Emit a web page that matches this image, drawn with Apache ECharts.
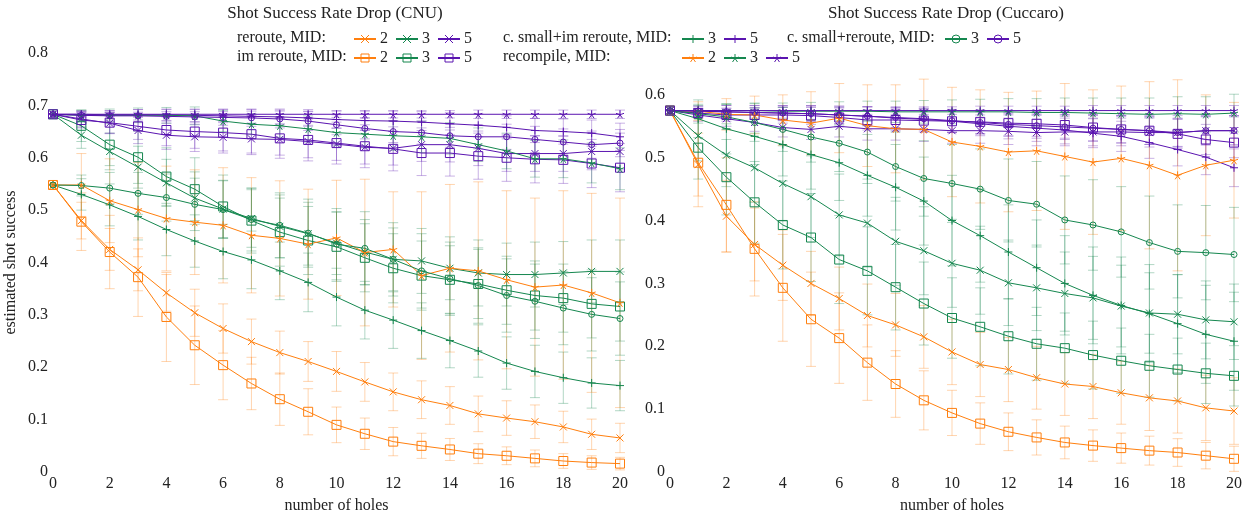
<!DOCTYPE html>
<html>
<head>
<meta charset="utf-8">
<script src="https://cdn.jsdelivr.net/npm/echarts@6/dist/echarts.min.js"></script>
<style>
  html, body { margin: 0; padding: 0; background: #fff; }
  #chart { width: 1252px; height: 519px; }
</style>
</head>
<body>
<div id="chart"></div>
<script>
// x axis: number of holes
const holes = [0, 1, 2, 3, 4, 5, 6, 7, 8, 9, 10, 11, 12, 13, 14, 15, 16, 17, 18, 19, 20]

// ---- CNU panel (means) ----
const cnuReroute2 = [0.548, 0.48, 0.425, 0.386, 0.342, 0.304, 0.274, 0.249, 0.228, 0.211, 0.192, 0.172, 0.153, 0.138, 0.127, 0.111, 0.103, 0.096, 0.086, 0.072, 0.065]
const cnuReroute3 = [0.683, 0.643, 0.612, 0.582, 0.552, 0.523, 0.502, 0.484, 0.469, 0.455, 0.437, 0.42, 0.406, 0.403, 0.389, 0.38, 0.377, 0.377, 0.38, 0.383, 0.383]
const cnuReroute5 = [0.683, 0.674, 0.666, 0.652, 0.643, 0.64, 0.639, 0.636, 0.635, 0.631, 0.626, 0.62, 0.618, 0.625, 0.625, 0.618, 0.608, 0.608, 0.608, 0.612, 0.612]
const cnuImReroute2 = [0.548, 0.478, 0.42, 0.372, 0.296, 0.242, 0.204, 0.169, 0.139, 0.115, 0.09, 0.073, 0.058, 0.05, 0.043, 0.035, 0.031, 0.026, 0.021, 0.018, 0.016]
const cnuImReroute3 = [0.683, 0.661, 0.625, 0.601, 0.564, 0.54, 0.507, 0.48, 0.458, 0.442, 0.43, 0.409, 0.389, 0.375, 0.367, 0.359, 0.347, 0.337, 0.332, 0.321, 0.316]
const cnuImReroute5 = [0.683, 0.672, 0.667, 0.66, 0.653, 0.65, 0.648, 0.645, 0.637, 0.634, 0.628, 0.622, 0.617, 0.609, 0.609, 0.603, 0.6, 0.597, 0.596, 0.589, 0.581]
const cnuSmallImReroute3 = [0.548, 0.53, 0.51, 0.488, 0.463, 0.441, 0.421, 0.405, 0.384, 0.362, 0.334, 0.309, 0.29, 0.27, 0.251, 0.231, 0.208, 0.192, 0.18, 0.17, 0.165]
const cnuSmallImReroute5 = [0.683, 0.683, 0.682, 0.682, 0.682, 0.681, 0.68, 0.679, 0.678, 0.676, 0.673, 0.671, 0.67, 0.668, 0.665, 0.662, 0.658, 0.652, 0.65, 0.647, 0.64]
const cnuRecompile2 = [0.548, 0.548, 0.518, 0.501, 0.484, 0.477, 0.471, 0.452, 0.446, 0.435, 0.447, 0.419, 0.425, 0.375, 0.389, 0.384, 0.367, 0.353, 0.357, 0.342, 0.323]
const cnuRecompile3 = [0.683, 0.681, 0.681, 0.681, 0.681, 0.68, 0.67, 0.664, 0.661, 0.655, 0.648, 0.645, 0.642, 0.64, 0.637, 0.625, 0.613, 0.598, 0.598, 0.59, 0.579]
const cnuRecompile5 = [0.683, 0.683, 0.683, 0.683, 0.683, 0.683, 0.683, 0.683, 0.683, 0.683, 0.683, 0.683, 0.683, 0.683, 0.683, 0.683, 0.683, 0.683, 0.683, 0.683, 0.683]
const cnuSmallReroute3 = [0.548, 0.547, 0.542, 0.532, 0.524, 0.511, 0.501, 0.482, 0.471, 0.456, 0.435, 0.427, 0.406, 0.384, 0.369, 0.356, 0.337, 0.326, 0.313, 0.301, 0.293]
const cnuSmallReroute5 = [0.683, 0.681, 0.68, 0.68, 0.679, 0.678, 0.677, 0.676, 0.674, 0.67, 0.663, 0.656, 0.65, 0.648, 0.642, 0.64, 0.64, 0.635, 0.63, 0.625, 0.628]

// ---- CNU panel (error half widths) ----
const cnuReroute2Err = [0, 0.035, 0.04, 0.04, 0.035, 0.045, 0.047, 0.043, 0.041, 0.038, 0.038, 0.037, 0.036, 0.036, 0.036, 0.034, 0.033, 0.032, 0.03, 0.029, 0.028]
const cnuReroute3Err = [0, 0.025, 0.035, 0.04, 0.045, 0.05, 0.055, 0.055, 0.06, 0.06, 0.06, 0.062, 0.06, 0.062, 0.06, 0.063, 0.06, 0.062, 0.06, 0.06, 0.06]
const cnuReroute5Err = [0, 0.015, 0.02, 0.025, 0.027, 0.028, 0.03, 0.03, 0.03, 0.031, 0.031, 0.032, 0.032, 0.032, 0.033, 0.033, 0.034, 0.034, 0.034, 0.035, 0.035]
const cnuImReroute2Err = [0, 0.055, 0.07, 0.075, 0.085, 0.075, 0.066, 0.05, 0.05, 0.044, 0.034, 0.03, 0.027, 0.024, 0.021, 0.019, 0.017, 0.016, 0.014, 0.013, 0.012]
const cnuImReroute3Err = [0, 0.03, 0.04, 0.05, 0.055, 0.06, 0.06, 0.062, 0.065, 0.065, 0.066, 0.065, 0.066, 0.066, 0.065, 0.066, 0.065, 0.066, 0.065, 0.065, 0.066]
const cnuImReroute5Err = [0, 0.015, 0.02, 0.025, 0.03, 0.032, 0.035, 0.036, 0.038, 0.04, 0.04, 0.041, 0.042, 0.043, 0.044, 0.044, 0.045, 0.045, 0.045, 0.046, 0.046]
const cnuSmallImReroute3Err = [0, 0.03, 0.04, 0.045, 0.05, 0.05, 0.052, 0.055, 0.055, 0.056, 0.055, 0.055, 0.054, 0.053, 0.052, 0.05, 0.05, 0.05, 0.049, 0.048, 0.048]
const cnuSmallImReroute5Err = [0, 0.006, 0.008, 0.01, 0.011, 0.012, 0.013, 0.014, 0.015, 0.016, 0.017, 0.018, 0.019, 0.02, 0.021, 0.022, 0.022, 0.023, 0.024, 0.025, 0.026]
const cnuRecompile2Err = [0, 0.06, 0.08, 0.09, 0.1, 0.1, 0.11, 0.11, 0.11, 0.105, 0.11, 0.14, 0.11, 0.16, 0.16, 0.17, 0.17, 0.17, 0.18, 0.19, 0.2]
const cnuRecompile3Err = [0, 0.01, 0.012, 0.014, 0.015, 0.017, 0.02, 0.02, 0.022, 0.025, 0.025, 0.026, 0.028, 0.03, 0.03, 0.032, 0.034, 0.035, 0.036, 0.038, 0.04]
const cnuRecompile5Err = [0, 0.003, 0.004, 0.004, 0.005, 0.005, 0.005, 0.006, 0.006, 0.006, 0.006, 0.007, 0.007, 0.007, 0.007, 0.008, 0.008, 0.008, 0.008, 0.008, 0.008]
const cnuSmallReroute3Err = [0, 0.02, 0.03, 0.04, 0.045, 0.05, 0.055, 0.06, 0.062, 0.065, 0.068, 0.07, 0.07, 0.071, 0.07, 0.072, 0.07, 0.071, 0.07, 0.07, 0.07]
const cnuSmallReroute5Err = [0, 0.008, 0.01, 0.012, 0.013, 0.014, 0.015, 0.016, 0.017, 0.018, 0.019, 0.02, 0.021, 0.022, 0.022, 0.023, 0.024, 0.025, 0.025, 0.026, 0.026]

// ---- Cuccaro panel (means) ----
const cucReroute2 = [0.575, 0.489, 0.407, 0.362, 0.329, 0.3, 0.276, 0.249, 0.234, 0.215, 0.191, 0.171, 0.163, 0.15, 0.14, 0.136, 0.126, 0.118, 0.113, 0.102, 0.097]
const cucReroute3 = [0.575, 0.535, 0.504, 0.484, 0.459, 0.438, 0.409, 0.396, 0.367, 0.352, 0.332, 0.321, 0.301, 0.293, 0.284, 0.277, 0.264, 0.253, 0.251, 0.242, 0.239]
const cucReroute5 = [0.575, 0.568, 0.562, 0.556, 0.548, 0.545, 0.55, 0.546, 0.546, 0.545, 0.543, 0.543, 0.542, 0.54, 0.541, 0.541, 0.541, 0.54, 0.54, 0.543, 0.543]
const cucImReroute2 = [0.575, 0.492, 0.425, 0.355, 0.293, 0.243, 0.213, 0.174, 0.14, 0.114, 0.094, 0.077, 0.064, 0.055, 0.047, 0.042, 0.038, 0.034, 0.031, 0.026, 0.021]
const cucImReroute3 = [0.575, 0.516, 0.469, 0.429, 0.393, 0.373, 0.338, 0.32, 0.294, 0.268, 0.245, 0.231, 0.216, 0.204, 0.197, 0.186, 0.177, 0.169, 0.163, 0.157, 0.153]
const cucImReroute5 = [0.575, 0.571, 0.568, 0.568, 0.568, 0.567, 0.564, 0.56, 0.56, 0.559, 0.558, 0.557, 0.555, 0.554, 0.552, 0.548, 0.545, 0.543, 0.538, 0.529, 0.524]
const cucSmallImReroute3 = [0.575, 0.562, 0.546, 0.534, 0.521, 0.505, 0.492, 0.472, 0.453, 0.431, 0.4, 0.376, 0.35, 0.325, 0.3, 0.281, 0.265, 0.252, 0.236, 0.219, 0.208]
const cucSmallImReroute5 = [0.575, 0.574, 0.573, 0.572, 0.571, 0.57, 0.568, 0.566, 0.563, 0.561, 0.558, 0.554, 0.55, 0.547, 0.544, 0.539, 0.534, 0.524, 0.513, 0.501, 0.484]
const cucRecompile2 = [0.575, 0.574, 0.569, 0.568, 0.56, 0.555, 0.563, 0.551, 0.546, 0.545, 0.525, 0.518, 0.509, 0.511, 0.502, 0.493, 0.499, 0.488, 0.472, 0.488, 0.496]
const cucRecompile3 = [0.575, 0.575, 0.575, 0.575, 0.574, 0.574, 0.574, 0.574, 0.573, 0.573, 0.573, 0.573, 0.573, 0.572, 0.572, 0.571, 0.57, 0.569, 0.57, 0.569, 0.571]
const cucRecompile5 = [0.575, 0.575, 0.575, 0.575, 0.575, 0.575, 0.575, 0.575, 0.575, 0.575, 0.575, 0.575, 0.575, 0.575, 0.575, 0.575, 0.575, 0.575, 0.575, 0.575, 0.575]
const cucSmallReroute3 = [0.575, 0.57, 0.565, 0.556, 0.545, 0.533, 0.523, 0.509, 0.486, 0.467, 0.459, 0.45, 0.432, 0.426, 0.401, 0.393, 0.382, 0.365, 0.351, 0.349, 0.346]
const cucSmallReroute5 = [0.575, 0.574, 0.573, 0.572, 0.571, 0.57, 0.568, 0.566, 0.564, 0.562, 0.559, 0.556, 0.553, 0.551, 0.549, 0.547, 0.545, 0.543, 0.54, 0.543, 0.543]

// ---- Cuccaro panel (error half widths) ----
const cucReroute2Err = [0, 0.05, 0.057, 0.058, 0.056, 0.051, 0.05, 0.05, 0.05, 0.05, 0.052, 0.051, 0.051, 0.05, 0.05, 0.051, 0.05, 0.052, 0.051, 0.052, 0.053]
const cucReroute3Err = [0, 0.04, 0.05, 0.055, 0.06, 0.065, 0.065, 0.07, 0.07, 0.07, 0.07, 0.07, 0.068, 0.068, 0.066, 0.066, 0.065, 0.064, 0.063, 0.062, 0.06]
const cucReroute5Err = [0, 0.01, 0.012, 0.014, 0.015, 0.016, 0.017, 0.018, 0.018, 0.019, 0.02, 0.02, 0.021, 0.021, 0.022, 0.022, 0.022, 0.023, 0.023, 0.023, 0.024]
const cucImReroute2Err = [0, 0.07, 0.075, 0.075, 0.085, 0.075, 0.072, 0.06, 0.053, 0.047, 0.036, 0.033, 0.03, 0.028, 0.026, 0.025, 0.024, 0.023, 0.022, 0.021, 0.02]
const cucImReroute3Err = [0, 0.05, 0.06, 0.065, 0.07, 0.07, 0.07, 0.07, 0.068, 0.066, 0.064, 0.062, 0.06, 0.058, 0.056, 0.054, 0.052, 0.05, 0.05, 0.048, 0.048]
const cucImReroute5Err = [0, 0.008, 0.01, 0.012, 0.013, 0.014, 0.015, 0.016, 0.017, 0.018, 0.018, 0.019, 0.02, 0.02, 0.021, 0.021, 0.022, 0.022, 0.023, 0.024, 0.024]
const cucSmallImReroute3Err = [0, 0.03, 0.04, 0.045, 0.05, 0.055, 0.06, 0.065, 0.068, 0.07, 0.072, 0.074, 0.075, 0.076, 0.076, 0.077, 0.077, 0.078, 0.078, 0.078, 0.078]
const cucSmallImReroute5Err = [0, 0.008, 0.01, 0.011, 0.012, 0.013, 0.014, 0.015, 0.016, 0.017, 0.018, 0.019, 0.02, 0.021, 0.022, 0.023, 0.024, 0.025, 0.026, 0.028, 0.03]
const cucRecompile2Err = [0, 0.015, 0.025, 0.03, 0.04, 0.05, 0.055, 0.065, 0.07, 0.08, 0.087, 0.09, 0.095, 0.095, 0.116, 0.115, 0.115, 0.133, 0.152, 0.112, 0.092]
const cucRecompile3Err = [0, 0.008, 0.01, 0.012, 0.013, 0.014, 0.015, 0.016, 0.017, 0.018, 0.019, 0.02, 0.021, 0.022, 0.023, 0.024, 0.025, 0.026, 0.027, 0.028, 0.03]
const cucRecompile5Err = [0, 0.003, 0.004, 0.004, 0.005, 0.005, 0.005, 0.006, 0.006, 0.006, 0.006, 0.007, 0.007, 0.007, 0.007, 0.008, 0.008, 0.008, 0.008, 0.008, 0.008]
const cucSmallReroute3Err = [0, 0.015, 0.02, 0.03, 0.035, 0.04, 0.045, 0.05, 0.055, 0.06, 0.062, 0.064, 0.066, 0.068, 0.07, 0.072, 0.072, 0.074, 0.074, 0.075, 0.075]
const cucSmallReroute5Err = [0, 0.008, 0.01, 0.011, 0.012, 0.013, 0.014, 0.015, 0.016, 0.017, 0.018, 0.018, 0.019, 0.02, 0.02, 0.021, 0.021, 0.022, 0.022, 0.022, 0.022]

const ORANGE = '#ff7f0e'
const GREEN = '#15874f'
const PURPLE = '#5a14b0'
const FONT = 'Liberation Serif'
const INK = '#222'

// pgfplots-like marks (open marks have no fill)
const MARK = {
  cross: { symbol: 'path://M0,0L10,10M10,0L0,10', size: 7, open: false },
  square: { symbol: 'rect', size: 9, open: true },
  plus: { symbol: 'path://M5,0L5,10M0,5L10,5', size: 8, open: false },
  star: { symbol: 'path://M5,5L5,0M5,5L9.76,3.45M5,5L7.94,9.05M5,5L2.06,9.05M5,5L0.24,3.45', size: 8, open: false },
  circle: { symbol: 'circle', size: 6, open: true }
}

// name, colour, mark, CNU mean/err, Cuccaro mean/err
const lines = [
  ['reroute 2', ORANGE, 'cross', cnuReroute2, cnuReroute2Err, cucReroute2, cucReroute2Err],
  ['reroute 3', GREEN, 'cross', cnuReroute3, cnuReroute3Err, cucReroute3, cucReroute3Err],
  ['reroute 5', PURPLE, 'cross', cnuReroute5, cnuReroute5Err, cucReroute5, cucReroute5Err],
  ['im reroute 2', ORANGE, 'square', cnuImReroute2, cnuImReroute2Err, cucImReroute2, cucImReroute2Err],
  ['im reroute 3', GREEN, 'square', cnuImReroute3, cnuImReroute3Err, cucImReroute3, cucImReroute3Err],
  ['im reroute 5', PURPLE, 'square', cnuImReroute5, cnuImReroute5Err, cucImReroute5, cucImReroute5Err],
  ['small im reroute 3', GREEN, 'plus', cnuSmallImReroute3, cnuSmallImReroute3Err, cucSmallImReroute3, cucSmallImReroute3Err],
  ['small im reroute 5', PURPLE, 'plus', cnuSmallImReroute5, cnuSmallImReroute5Err, cucSmallImReroute5, cucSmallImReroute5Err],
  ['recompile 2', ORANGE, 'star', cnuRecompile2, cnuRecompile2Err, cucRecompile2, cucRecompile2Err],
  ['recompile 3', GREEN, 'star', cnuRecompile3, cnuRecompile3Err, cucRecompile3, cucRecompile3Err],
  ['recompile 5', PURPLE, 'star', cnuRecompile5, cnuRecompile5Err, cucRecompile5, cucRecompile5Err],
  ['small reroute 3', GREEN, 'circle', cnuSmallReroute3, cnuSmallReroute3Err, cucSmallReroute3, cucSmallReroute3Err],
  ['small reroute 5', PURPLE, 'circle', cnuSmallReroute5, cnuSmallReroute5Err, cucSmallReroute5, cucSmallReroute5Err]
]

function errorSeries(color, mean, err, idx) {
  return {
    type: 'custom', xAxisIndex: idx, yAxisIndex: idx, silent: true, z: 1,
    data: holes.map((h, i) => [h, mean[i] - err[i], mean[i] + err[i]]),
    renderItem(params, api) {
      if (api.value(2) - api.value(1) <= 0) return
      const top = api.coord([api.value(0), api.value(2)])
      const bot = api.coord([api.value(0), api.value(1)])
      const st = { stroke: color, lineWidth: 1, opacity: 0.33 }
      return {
        type: 'group',
        children: [
          { type: 'line', shape: { x1: top[0], y1: top[1], x2: bot[0], y2: bot[1] }, style: st },
          { type: 'line', shape: { x1: top[0] - 5, y1: top[1], x2: top[0] + 5, y2: top[1] }, style: st },
          { type: 'line', shape: { x1: bot[0] - 5, y1: bot[1], x2: bot[0] + 5, y2: bot[1] }, style: st }
        ]
      }
    }
  }
}

function lineSeries(name, color, mark, mean, idx) {
  const m = MARK[mark]
  return {
    name, type: 'line', xAxisIndex: idx, yAxisIndex: idx, z: 3,
    data: holes.map((h, i) => [h, mean[i]]),
    symbol: m.symbol, symbolSize: m.size, showAllSymbol: true,
    lineStyle: { color, width: 1 },
    itemStyle: { color: m.open ? 'rgba(255,255,255,0)' : color, borderColor: color, borderWidth: 1 },
    emphasis: { disabled: true }
  }
}

const series = []
lines.forEach(([name, color, mark, cm, ce, um, ue]) => {
  series.push(errorSeries(color, cm, ce, 0))
  series.push(errorSeries(color, um, ue, 1))
})
lines.forEach(([name, color, mark, cm, ce, um, ue]) => {
  series.push(lineSeries(name, color, mark, cm, 0))
  series.push(lineSeries(name, color, mark, um, 1))
})

const txt = { fontFamily: FONT, fontSize: 16, color: INK }
const legendBase = {
  itemWidth: 22, itemHeight: 10, itemGap: 7, padding: 0,
  formatter: n => n.slice(-1),
  textStyle: { ...txt, padding: [0, 0, 0, -1] },
  itemStyle: { borderWidth: 1 },
  selectedMode: false
}

const axisText = { fontFamily: FONT, fontSize: 16, color: INK }
function xAxis(idx) {
  return {
    type: 'value', gridIndex: idx, min: 0, max: 20, interval: 2,
    name: 'number of holes', nameLocation: 'middle', nameGap: 26,
    nameTextStyle: axisText,
    axisLine: { show: false }, axisTick: { show: false }, splitLine: { show: false },
    axisLabel: { ...axisText, margin: 4 }
  }
}

function label(text, x, y, size, align) {
  return { type: 'text', x, y, style: { text, font: `${size}px "${FONT}"`, fill: INK, align: align || 'left', verticalAlign: 'middle' } }
}

const chart = echarts.init(document.getElementById('chart'), null, { renderer: 'canvas' })
chart.setOption({
  backgroundColor: '#fff',
  animation: false,
  grid: [
    { left: 53, width: 567, top: 53, height: 424 },
    { left: 670, width: 564, top: 76, height: 398.5 }
  ],
  xAxis: [xAxis(0), xAxis(1)],
  yAxis: [
    {
      type: 'value', gridIndex: 0, min: 0, max: 0.8, interval: 0.1,
      name: 'estimated shot success', nameLocation: 'middle', nameGap: 34, nameRotate: 90,
      nameTextStyle: axisText,
      axisLine: { show: false }, axisTick: { show: false }, splitLine: { show: false },
      axisLabel: { ...axisText, margin: 5 }
    },
    {
      type: 'value', gridIndex: 1, min: 0, max: 0.63, interval: 0.1,
      axisLine: { show: false }, axisTick: { show: false }, splitLine: { show: false },
      axisLabel: { ...axisText, margin: 5, showMaxLabel: false }
    }
  ],
  legend: [
    { ...legendBase, left: 353, top: 31, data: ['reroute 2', 'reroute 3', 'reroute 5'] },
    { ...legendBase, left: 353, top: 50, data: ['im reroute 2', 'im reroute 3', 'im reroute 5'] },
    { ...legendBase, left: 681, top: 31, data: ['small im reroute 3', 'small im reroute 5'] },
    { ...legendBase, left: 681, top: 50, data: ['recompile 2', 'recompile 3', 'recompile 5'] },
    { ...legendBase, left: 944, top: 31, data: ['small reroute 3', 'small reroute 5'] }
  ],
  graphic: [
    label('Shot Success Rate Drop (CNU)', 335, 14, 17, 'center'),
    label('Shot Success Rate Drop (Cuccaro)', 946, 14, 17, 'center'),
    label('reroute, MID:', 237, 38, 16),
    label('im reroute, MID:', 237, 57, 16),
    label('c. small+im reroute, MID:', 503, 38, 16),
    label('recompile, MID:', 503, 57, 16),
    label('c. small+reroute, MID:', 787, 38, 16)
  ],
  series
})
</script>
</body>
</html>
